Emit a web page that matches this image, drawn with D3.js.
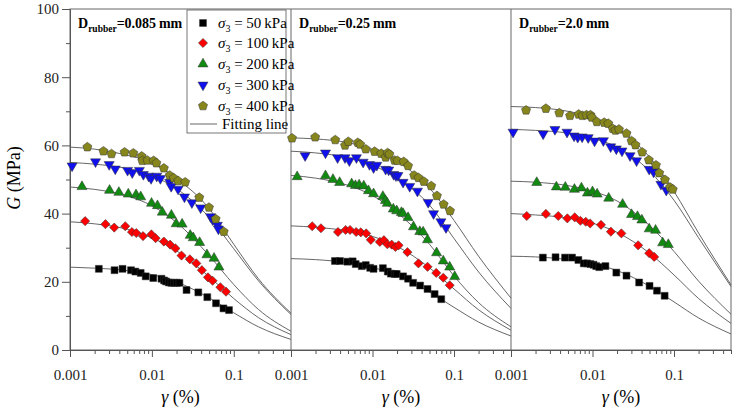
<!DOCTYPE html>
<html>
<head>
<meta charset="utf-8">
<script src="https://cdn.jsdelivr.net/npm/d3@7"></script>
<style>
  body { margin: 0; background: #fff; }
  svg { font-family: "Liberation Serif", "Times New Roman", serif; }
  .axis path, .axis line { stroke: #555; }
  .axis text { font-size: 15px; fill: #222; font-family: "Liberation Serif", "Times New Roman", serif; }
  .fit { fill: none; stroke: #555; stroke-width: 0.9; }
  .pt { stroke: #333; stroke-width: 0.5; }
</style>
</head>
<body>
<div id="chart"></div>
<script>
// ---- data ----
var panelTitles = ["0.085", "0.25", "2.0"];
var confining = ["50", "100", "200", "300", "400"];
var seriesColors = ["#000000", "#ff0000", "#128a12", "#1010ee", "#86861c"];
var xTickValues = [0.001, 0.01, 0.1];
var xTickLabels = ["0.001", "0.01", "0.1"];
var yTickValues = [0, 20, 40, 60, 80, 100];

// strain (%) where the fitting lines were read
var strainFit = [0.001, 0.002, 0.005, 0.01, 0.02, 0.05, 0.1, 0.2, 0.5];

// D_rubber = 0.085 mm
var p1s50 = [[0.00225,23.8],[0.0035,23.4],[0.00438,23.8],[0.00556,23.4],[0.00628,23.0],[0.0073,22.6],[0.0084,21.6],[0.0104,21.1],[0.0131,20.9],[0.0141,20.4],[0.0149,20.1],[0.0161,19.8],[0.0173,19.7],[0.0187,19.7],[0.0201,19.7],[0.0217,19.7],[0.0265,17.6],[0.0369,16.9],[0.0475,15.5],[0.0607,13.7],[0.0748,12.2],[0.0875,11.7]];
var p1s100 = [[0.00153,37.8],[0.00271,36.9],[0.00347,35.9],[0.00473,36.3],[0.00571,34.6],[0.00645,34.3],[0.0078,33.4],[0.00986,33.9],[0.0111,32.8],[0.014,31.8],[0.0167,30.9],[0.0194,29.8],[0.023,27.7],[0.0291,26.6],[0.0349,25.4],[0.0408,23.4],[0.0484,21.3],[0.0552,20.3],[0.0686,18.4],[0.0804,17.1]];
var p1s200 = [[0.0014,47.9],[0.00304,46.8],[0.00395,46.2],[0.00515,45.7],[0.0064,45.5],[0.0073,44.9],[0.0099,43.0],[0.0117,42.3],[0.0134,40.4],[0.0173,39.5],[0.0198,37.0],[0.0234,36.9],[0.0294,33.6],[0.032,32.9],[0.0383,31.5],[0.047,27.9],[0.0574,26.9],[0.066,24.3]];
var p1s300 = [[0.00106,54.0],[0.00205,55.2],[0.00301,54.4],[0.00357,53.1],[0.00505,52.7],[0.00576,52.0],[0.00703,52.7],[0.00787,51.5],[0.00914,51.0],[0.00978,50.3],[0.01146,51.0],[0.0127,50.3],[0.0165,49.2],[0.0172,48.0],[0.0209,47.2],[0.025,44.9],[0.0308,43.2],[0.0394,41.7],[0.0522,39.1],[0.0552,38.2],[0.063,36.6],[0.0649,35.5]];
var p1s400 = [[0.00163,59.5],[0.00256,58.3],[0.00321,57.5],[0.00464,58.0],[0.00593,57.7],[0.0075,56.8],[0.00764,55.5],[0.0088,55.6],[0.0105,55.5],[0.01135,54.8],[0.014,53.3],[0.0165,51.2],[0.0185,50.4],[0.0209,49.6],[0.0255,49.2],[0.0379,44.7],[0.0498,41.8],[0.0601,38.4],[0.0754,34.7]];
var f1s50 = [24.3,24.0,23.3,22.1,19.95,15.3,10.9,6.8,3.1];
var f1s100 = [37.6,37.0,35.4,32.9,29.1,21.5,15.1,9.5,4.5];
var f1s200 = [47.8,47.1,45.2,42.3,37.4,27.7,19.2,11.9,5.5];
var f1s300 = [55.0,54.5,53.2,51.1,47.3,38.9,29.7,20.3,10.4];
var f1s400 = [59.5,58.9,57.1,55.0,50.3,41.5,31.0,20.9,10.8];

// D_rubber = 0.25 mm
var p2s50 = [[0.00346,26.1],[0.00399,26.1],[0.00491,25.9],[0.00571,26.0],[0.00622,25.2],[0.00738,24.6],[0.00827,24.9],[0.00936,24.1],[0.0103,23.8],[0.0134,24.0],[0.0154,23.0],[0.0168,22.4],[0.0187,22.3],[0.0198,22.3],[0.0237,21.6],[0.0273,20.9],[0.0315,19.7],[0.0384,18.9],[0.0473,17.9],[0.0578,16.4],[0.0697,14.9]];
var p2s100 = [[0.00182,36.3],[0.00233,35.7],[0.00377,34.6],[0.00468,35.2],[0.0053,35.2],[0.0063,34.6],[0.00718,34.5],[0.00836,34.2],[0.00953,32.3],[0.0123,31.7],[0.0138,32.2],[0.0152,31.0],[0.0172,30.9],[0.0191,30.2],[0.0209,30.7],[0.0268,28.7],[0.0366,25.4],[0.0473,24.4],[0.0605,22.6],[0.0738,21.2],[0.0885,19.0]];
var p2s200 = [[0.00119,50.8],[0.00265,51.1],[0.00327,50.0],[0.00395,49.1],[0.00555,48.7],[0.00617,48.2],[0.00685,48.4],[0.00781,48.1],[0.00892,46.7],[0.0103,45.8],[0.0134,45.0],[0.0144,43.8],[0.0152,43.0],[0.018,41.3],[0.0198,40.8],[0.0226,40.3],[0.0237,40.0],[0.0273,38.8],[0.0318,36.1],[0.038,34.7],[0.0418,34.6],[0.0473,32.3],[0.0611,28.5],[0.0738,26.1],[0.0885,24.3],[0.102,21.5]];
var p2s300 = [[0.00149,57.0],[0.00265,57.8],[0.00373,56.4],[0.0046,56.4],[0.0052,55.5],[0.00635,56.4],[0.00767,55.1],[0.00918,54.4],[0.0103,53.5],[0.0113,54.2],[0.0145,53.0],[0.0158,52.8],[0.0182,51.5],[0.0194,51.1],[0.0205,51.2],[0.0237,49.2],[0.0286,48.0],[0.0356,46.6],[0.0482,43.3],[0.0561,40.0],[0.0691,37.6],[0.0797,35.9]];
var p2s400 = [[0.00103,62.1],[0.00198,62.4],[0.00349,61.6],[0.0046,60.0],[0.00505,61.1],[0.00659,60.8],[0.00705,60.3],[0.00827,58.9],[0.0106,58.2],[0.0128,57.6],[0.0145,56.5],[0.0153,57.8],[0.0161,57.4],[0.0187,55.6],[0.0202,55.5],[0.0241,55.2],[0.0273,54.0],[0.0324,51.2],[0.0366,50.5],[0.0426,49.4],[0.0525,48.1],[0.0617,45.2],[0.0746,42.7],[0.0893,40.8]];
var f2s50 = [26.8,26.5,25.6,24.2,21.9,17.0,12.5,8.2,4.1];
var f2s100 = [36.4,36.0,34.9,33.3,30.4,24.1,17.9,11.8,5.8];
var f2s200 = [51.2,50.4,48.3,45.3,40.3,31.0,21.7,13.9,6.8];
var f2s300 = [58.3,57.8,56.4,54.2,50.4,42.5,32.7,22.9,12.2];
var f2s400 = [62.2,61.9,60.8,58.8,55.3,47.5,38.0,27.5,15.2];

// D_rubber = 2.0 mm
var p3s50 = [[0.00246,27.1],[0.00352,27.2],[0.0046,27.1],[0.00561,27.1],[0.00671,26.4],[0.00781,25.4],[0.0086,25.4],[0.00944,25.2],[0.0103,25.0],[0.0111,24.6],[0.0121,24.3],[0.0144,24.6],[0.0196,22.7],[0.0261,21.8],[0.0373,19.8],[0.0501,18.8],[0.0617,17.4],[0.0767,15.9]];
var p3s100 = [[0.00156,39.3],[0.00268,39.9],[0.0038,39.3],[0.00491,38.6],[0.00605,38.9],[0.00711,37.9],[0.00827,37.6],[0.00936,37.1],[0.0127,36.7],[0.0168,34.7],[0.0226,34.2],[0.0363,30.7],[0.0496,28.4],[0.0571,27.3]];
var p3s200 = [[0.00207,49.1],[0.0036,47.8],[0.00464,47.7],[0.006,47.1],[0.00731,47.5],[0.00867,46.0],[0.01,46.4],[0.0114,45.7],[0.0158,44.5],[0.0234,42.7],[0.0301,39.7],[0.0356,39.1],[0.0403,38.1],[0.0496,35.5],[0.0594,35.1],[0.0725,31.4],[0.0851,30.9]];
var p3s300 = [[0.00106,63.9],[0.00248,63.4],[0.00346,64.7],[0.00487,63.9],[0.00594,62.8],[0.00659,62.4],[0.00746,62.5],[0.00885,62.3],[0.0106,61.3],[0.0136,61.4],[0.0167,59.6],[0.0196,59.0],[0.023,58.4],[0.0289,57.0],[0.0347,55.5],[0.0496,53.0],[0.0561,52.2],[0.0691,48.6],[0.0804,46.9]];
var p3s400 = [[0.00153,70.3],[0.00268,70.8],[0.00391,69.5],[0.0053,68.7],[0.00677,69.1],[0.00753,68.7],[0.00843,68.9],[0.00944,68.9],[0.0098,68.2],[0.0113,66.9],[0.0139,66.7],[0.0156,66.4],[0.0177,64.9],[0.0191,64.4],[0.0211,64.7],[0.0261,63.5],[0.0301,61.3],[0.0337,60.1],[0.0406,58.0],[0.0491,55.7],[0.06,54.2],[0.0659,51.9],[0.0774,49.9],[0.0893,47.7],[0.0964,47.1]];
var f3s50 = [27.5,27.3,26.5,25.3,23.3,18.7,14.1,9.4,4.7];
var f3s100 = [40.0,39.6,38.7,37.2,34.5,28.4,22.0,15.1,7.8];
var f3s200 = [49.5,49.2,48.2,46.6,43.7,36.5,28.9,20.2,10.5];
var f3s300 = [64.7,64.4,63.6,62.1,59.5,52.5,43.9,32.9,18.6];
var f3s400 = [71.4,71.1,70.0,68.2,64.9,56.6,46.5,34.3,19.1];

var points = [[p1s50,p1s100,p1s200,p1s300,p1s400],[p2s50,p2s100,p2s200,p2s300,p2s400],[p3s50,p3s100,p3s200,p3s300,p3s400]];
var fits = [[f1s50,f1s100,f1s200,f1s300,f1s400],[f2s50,f2s100,f2s200,f2s300,f2s400],[f3s50,f3s100,f3s200,f3s300,f3s400]];

// ---- layout ----
var W = 737, H = 410;
var plotTop = 9, plotBottom = 350;
var panelEdges = [70, 291, 511, 731];
var serif = "Liberation Serif, Times New Roman, serif";

var svg = d3.select("#chart").append("svg")
    .attr("width", W)
    .attr("height", H);

var y = d3.scaleLinear().domain([0, 100]).range([plotBottom, plotTop]);

// pentagon symbol
var symbolPentagon = {
  draw: function(ctx, size){
    var r = Math.sqrt(size / (2.5 * Math.sin(2 * Math.PI / 5)));
    for (var k = 0; k < 5; k++){
      var a = -Math.PI / 2 + k * 2 * Math.PI / 5;
      if (k === 0) ctx.moveTo(r * Math.cos(a), r * Math.sin(a));
      else ctx.lineTo(r * Math.cos(a), r * Math.sin(a));
    }
    ctx.closePath();
  }
};
var markers = [
  {type: d3.symbolSquare, size: 48, rot: 0},
  {type: d3.symbolSquare, size: 42, rot: 45},
  {type: d3.symbolTriangle, size: 44, rot: 0},
  {type: d3.symbolTriangle, size: 44, rot: 180},
  {type: symbolPentagon, size: 54, rot: 0}
];

// frame
svg.append("rect")
    .attr("x", panelEdges[0]).attr("y", plotTop)
    .attr("width", panelEdges[3] - panelEdges[0])
    .attr("height", plotBottom - plotTop)
    .attr("fill", "none").attr("stroke", "#666").attr("stroke-width", 1);

// y axis
var yAxis = d3.axisLeft(y).tickValues(yTickValues).tickSize(8).tickSizeOuter(0).tickPadding(3);
svg.append("g").attr("class", "axis")
    .attr("transform", "translate(" + panelEdges[0] + ",0)")
    .call(yAxis)
    .attr("font-family", serif);
svg.append("g").attr("class", "axis")
    .attr("transform", "translate(" + panelEdges[0] + ",0)")
    .call(d3.axisLeft(y).tickValues([10, 30, 50, 70, 90]).tickSize(4).tickFormat("").tickSizeOuter(0));

svg.append("text")
    .attr("transform", "translate(20,178) rotate(-90)")
    .attr("text-anchor", "middle")
    .style("font-size", "18px")
    .html('<tspan font-style="italic">G</tspan> (MPa)');

var line = d3.line().curve(d3.curveMonotoneX);

for (var p = 0; p < 3; p++){
  var x = d3.scaleLog().domain([0.001, 0.5]).range([panelEdges[p], panelEdges[p + 1]]);
  var g = svg.append("g").attr("class", "panel" + p);

  if (p > 0){
    g.append("line")
      .attr("x1", panelEdges[p]).attr("x2", panelEdges[p])
      .attr("y1", plotTop).attr("y2", plotBottom)
      .attr("stroke", "#666");
  }

  // x axes: major + minor
  var minor = [];
  [0.001, 0.01, 0.1].forEach(function(dec){
    for (var m = 2; m <= 9; m++){ var v = dec * m; if (v <= 0.5 + 1e-9) minor.push(v); }
  });
  g.append("g").attr("class", "axis")
    .attr("transform", "translate(0," + plotBottom + ")")
    .call(d3.axisBottom(x).tickValues(xTickValues).tickSize(7).tickSizeOuter(0).tickPadding(12)
      .tickFormat(function(d, i){ return xTickLabels[i]; }))
    .attr("font-family", serif);
  g.append("g").attr("class", "axis")
    .attr("transform", "translate(0," + plotBottom + ")")
    .call(d3.axisBottom(x).tickValues(minor).tickSize(4).tickSizeOuter(0).tickFormat(""));

  g.append("text")
    .attr("x", (panelEdges[p] + panelEdges[p + 1]) / 2)
    .attr("y", 403)
    .attr("text-anchor", "middle")
    .style("font-size", "18px")
    .html('<tspan font-style="italic">γ</tspan> (%)');

  // fitting lines
  fits[p].forEach(function(f){
    g.append("path")
      .attr("class", "fit")
      .attr("d", line(strainFit.map(function(s, i){ return [x(s), y(f[i])]; })));
  });

  // points
  points[p].forEach(function(ser, si){
    var mk = markers[si];
    var sym = d3.symbol().type(mk.type).size(mk.size);
    g.selectAll(".s" + si)
      .data(ser)
      .enter().append("path")
      .attr("class", "pt s" + si)
      .attr("d", sym)
      .attr("fill", seriesColors[si])
      .attr("transform", function(d){
        return "translate(" + x(d[0]) + "," + y(d[1]) + ") rotate(" + mk.rot + ")";
      });
  });

  // panel title
  var t = g.append("text")
    .attr("x", panelEdges[p] + 8)
    .attr("y", 28)
    .style("font-weight", "bold")
    .style("font-size", "14px");
  t.append("tspan").text("D");
  t.append("tspan").attr("dy", 4).style("font-size", "9.5px").text("rubber");
  t.append("tspan").attr("dy", -4).text("=" + panelTitles[p] + "\u2009mm");
}

// legend
var lg = svg.append("g").attr("class", "legend");
lg.append("rect")
  .attr("x", 187).attr("y", 10).attr("width", 99).attr("height", 123)
  .attr("fill", "#fff").attr("stroke", "#555").attr("stroke-width", 0.8);
var rowY = [23, 43, 64, 85, 106];
confining.forEach(function(c, i){
  var mk = markers[i];
  lg.append("path")
    .attr("class", "pt")
    .attr("d", d3.symbol().type(mk.type).size(mk.size))
    .attr("fill", seriesColors[i])
    .attr("transform", "translate(203," + rowY[i] + ") rotate(" + mk.rot + ")");
  var tx = lg.append("text")
    .attr("x", 218).attr("y", rowY[i] + 5)
    .style("font-size", "15px");
  tx.append("tspan").style("font-style", "italic").text("σ");
  tx.append("tspan").attr("dy", 4).style("font-size", "10px").text("3");
  tx.append("tspan").attr("dy", -4).text(" = " + c + "\u2009kPa");
});
lg.append("line")
  .attr("x1", 190).attr("x2", 217).attr("y1", 124).attr("y2", 124)
  .attr("stroke", "#555").attr("stroke-width", 0.9);
lg.append("text")
  .attr("x", 222).attr("y", 129)
  .style("font-size", "15px")
  .text("Fitting line");
</script>
</body>
</html>
